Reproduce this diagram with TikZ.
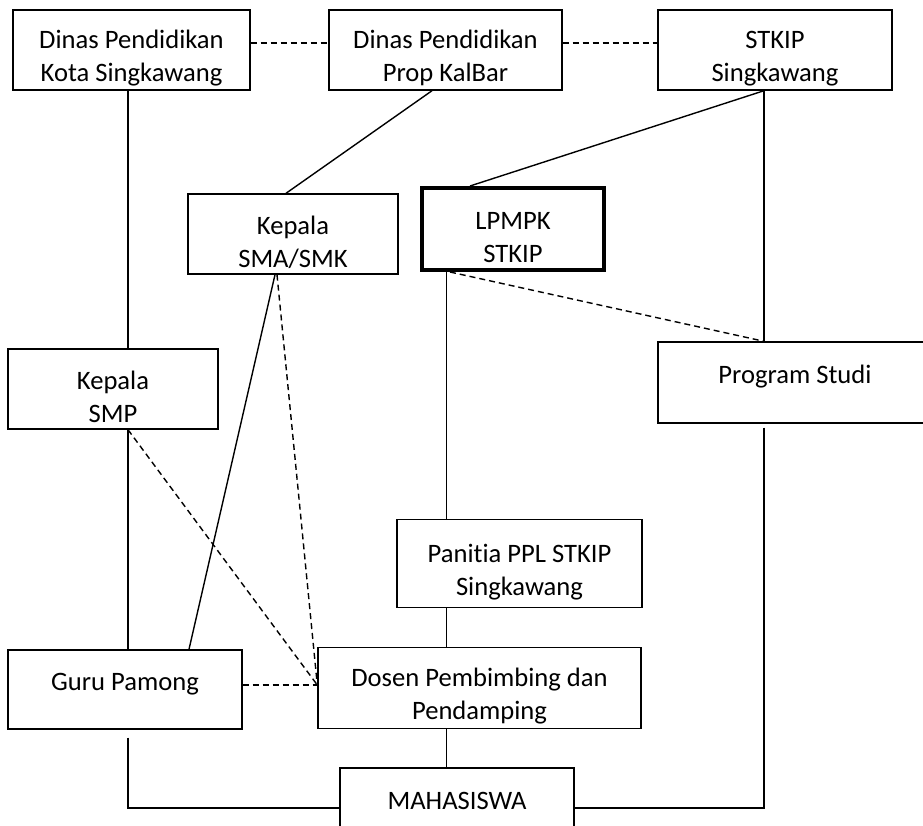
\documentclass[tikz,border=0pt]{standalone}
\usepackage{fontspec}
\setmainfont{Carlito}[Ligatures=NoCommon]
\usetikzlibrary{positioning}
\usetikzlibrary{calc}
\newcommand{\tsp}{\rule{0pt}{17.5pt}}
\tikzset{
b/.style={
  rectangle,solid,
  inner sep=0pt,
  line width=0.7pt,
  %minimum height=40pt,
  align=center,
  draw=black,
  fill=white,
  font=\fontsize{13.3}{16.5}\selectfont
  }
}
\tikzset{bb/.style={b,line width=2pt}}

\begin{document}
\begin{tikzpicture}[x=0.5pt,y=-0.5pt,line width=0.7pt,dsh/.style={dash pattern=on 3pt off 2pt}]
        \useasboundingbox (0,0) rectangle (923,826);
        \clip (0,0) rectangle (923,826);
        \node[b,minimum width=118.5pt,minimum height=40pt] at (131.5,50) (kota) {\tsp Dinas Pendidikan\\Kota Singkawang};
        \node[b,minimum width=116.5pt,minimum height=40pt] at (445.5,50) (prop) {\tsp Dinas Pendidikan\\Prop KalBar};
        \node[b,minimum width=117pt,minimum height=40pt] at (775,50) (stkip) {\tsp STKIP\\Singkawang};
        \node[b,minimum width=105pt,minimum height=40pt] at (293,234) (sma) {\tsp Kepala\\SMA/SMK};
        \node[bb,minimum width=91pt,minimum height=41pt] at (513,229) (lpmpk) {\tsp LPMPK\\STKIP};
        \node[b,minimum width=105pt,minimum height=40pt] at (113,389) (smp) {\tsp Kepala\\SMP};
        \node[b,minimum width=137pt,minimum height=40.5pt] at (795,382.5) (prodi) {\tsp Program Studi\\\mbox{}};
        \node[b,minimum width=122.5pt,minimum height=44pt] at (519.5,563.5) (panitia) {\tsp Panitia PPL STKIP\\Singkawang};
        \node[b,minimum width=161.5pt,minimum height=40.5pt] at (479.5,688) (dosen) {\tsp Dosen Pembimbing dan\\Pendamping};
        \node[b,minimum width=117pt,minimum height=39.5pt] at (125,689.5) (guru) {\tsp Guru Pamong\\\mbox{}};
        \node[b,minimum width=117pt,minimum height=40pt] at (457,808) (maha) {\tsp MAHASISWA\\\mbox{}};
        \coordinate (lx) at (128,0);
        \coordinate (mx) at (446.5,0);
        \coordinate (rx) at (764,0);
        \coordinate (meet) at ([yshift=1.5pt]dosen.west);
        \coordinate (gb) at ([yshift=-4pt]guru.south);
        \coordinate (pb) at ([yshift=-2pt]prodi.south);
        \path
        ([yshift=3.5pt]kota.east) edge [dsh] ([yshift=3.5pt]prop.west)
        ([yshift=3.5pt]prop.east) edge [dsh] ([yshift=3.5pt]stkip.west)
        (kota.south -| lx) edge [] (smp.north -| lx)
        (smp.south -| lx) edge [] (guru.north -| lx)
        ([xshift=-6.75pt]prop.south) edge [] ([xshift=-3.5pt]sma.north)
        (stkip.south -| rx) edge [] ([xshift=-21.5pt]lpmpk.north)
        (stkip.south -| rx) edge [] (prodi.north -| rx)
        ([xshift=-31.5pt]lpmpk.south) edge [dsh] (prodi.north -| rx)
        (lpmpk.south -| mx) edge [] (panitia.north -| mx)
        (panitia.south -| mx) edge [] (dosen.north -| mx)
        (dosen.south -| mx) edge [] (maha.north -| mx)
        ([xshift=-9pt]sma.south) edge [] ([xshift=32pt]guru.north)
        ([xshift=-8pt]sma.south) edge [dsh] (meet)
        (smp.south -| lx) edge [dsh] (meet)
        (guru.east |- meet) edge [dsh] (meet)
        ;
        \draw (gb -| lx) |- (maha.west);
        \draw (pb -| rx) |- (maha.east);
    \end{tikzpicture}
\end{document}
